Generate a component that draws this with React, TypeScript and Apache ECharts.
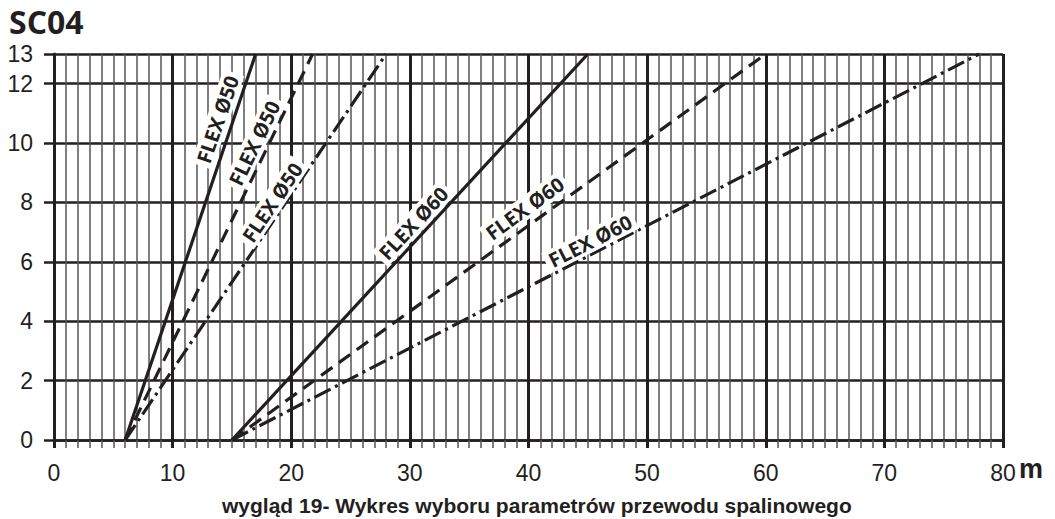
import React, { useEffect, useRef } from "react";
import * as echarts from "echarts";

const titleText = "SC04";
const captionText = "wygląd 19- Wykres wyboru parametrów przewodu spalinowego";
const unitText = "m";

// lines: [x, y] endpoints
const flex50Solid = [[6, 0], [17, 13]];
const flex50Dashed = [[6, 0], [21.8, 13]];
const flex50DashDot = [[6, 0], [28, 13]];
const flex60Solid = [[15, 0], [45, 13]];
const flex60Dashed = [[15, 0], [60, 13]];
const flex60DashDot = [[15, 0], [78, 13]];

const labelTexts = ["FLEX Ø50", "FLEX Ø50", "FLEX Ø50", "FLEX Ø60", "FLEX Ø60", "FLEX Ø60"];
const labelPoints = [[13.8, 10.8], [16.9, 10.0], [18.4, 8.0], [30.3, 7.3], [39.7, 7.8], [45.2, 6.7]];
const labelAngles = [71, 64, 56, 47, 36, 27];

const INK = "#231f20";

export default function App() {
  const ref = useRef<HTMLDivElement>(null);
  useEffect(() => {
    const chart = echarts.init(ref.current!, null, { renderer: "svg" });
    const lineSeries = (data: number[][], type: any) => ({
      type: "line",
      data,
      symbol: "none",
      z: 3,
      lineStyle: { color: INK, width: 3.2, type },
    });
    chart.setOption({
      animation: false,
      backgroundColor: "#fff",
      grid: { left: 54, right: 52, top: 54, bottom: 79 },
      title: {
        text: titleText,
        left: 9,
        top: 5,
        padding: 0,
        textStyle: { fontFamily: "Open Sans", fontWeight: "bold", fontSize: 32, lineHeight: 32, color: INK },
      },
      graphic: [
        {
          type: "text",
          left: 1019,
          top: 455,
          style: { text: unitText, font: "bold 27px 'Liberation Sans'", fill: INK },
        },
        {
          type: "text",
          left: 222,
          top: 495,
          style: { text: captionText, font: "bold 21px 'Liberation Sans'", fill: INK },
        },
      ],
      xAxis: {
        type: "value",
        min: 0,
        max: 80,
        interval: 10,
        axisLine: { show: true, lineStyle: { color: INK, width: 2.5 } },
        axisTick: { show: true, length: 8, lineStyle: { color: INK, width: 3 } },
        minorTick: { show: true, splitNumber: 10, length: 8, lineStyle: { color: "#555", width: 1.5 } },
        splitLine: { show: true, lineStyle: { color: INK, width: 3 } },
        minorSplitLine: { show: true, lineStyle: { color: "#555", width: 1.5 } },
        axisLabel: { fontFamily: "Liberation Sans", fontSize: 23, lineHeight: 23, color: INK, margin: 21 },
      },
      yAxis: {
        type: "value",
        min: 0,
        max: 13,
        interval: 2,
        axisLine: { show: true, lineStyle: { color: INK, width: 3 } },
        axisTick: { show: true, length: 10, lineStyle: { color: INK, width: 2.5 } },
        splitLine: { show: true, lineStyle: { color: INK, width: 2.5 } },
        axisLabel: { fontFamily: "Liberation Sans", fontSize: 23, lineHeight: 22, color: INK, margin: 21 },
      },
      series: [
        lineSeries(flex50Solid, "solid"),
        lineSeries(flex50Dashed, [14, 8]),
        lineSeries(flex50DashDot, [18, 5, 3, 5]),
        lineSeries(flex60Solid, "solid"),
        lineSeries(flex60Dashed, [14, 8]),
        lineSeries(flex60DashDot, [18, 5, 3, 5]),
        {
          type: "scatter",
          z: 5,
          symbol: "circle",
          symbolSize: 0,
          itemStyle: { color: "#ffffff", opacity: 1 },
          data: labelPoints.map((p, i) => ({
            value: p,
            label: { rotate: labelAngles[i], formatter: labelTexts[i] },
          })),
          label: {
            show: true,
            position: "inside",
            fontFamily: "Open Sans",
            fontWeight: "bold",
            fontSize: 20,
            color: INK,
            opacity: 1,
            textBorderWidth: 0,
            backgroundColor: "#fff",
            padding: [1, 4],
          },
        },
      ],
    });
    return () => chart.dispose();
  }, []);
  return (
    <div
      ref={ref}
      style={{ position: "fixed", left: 0, top: 0, width: 1055, height: 519 }}
    />
  );
}
